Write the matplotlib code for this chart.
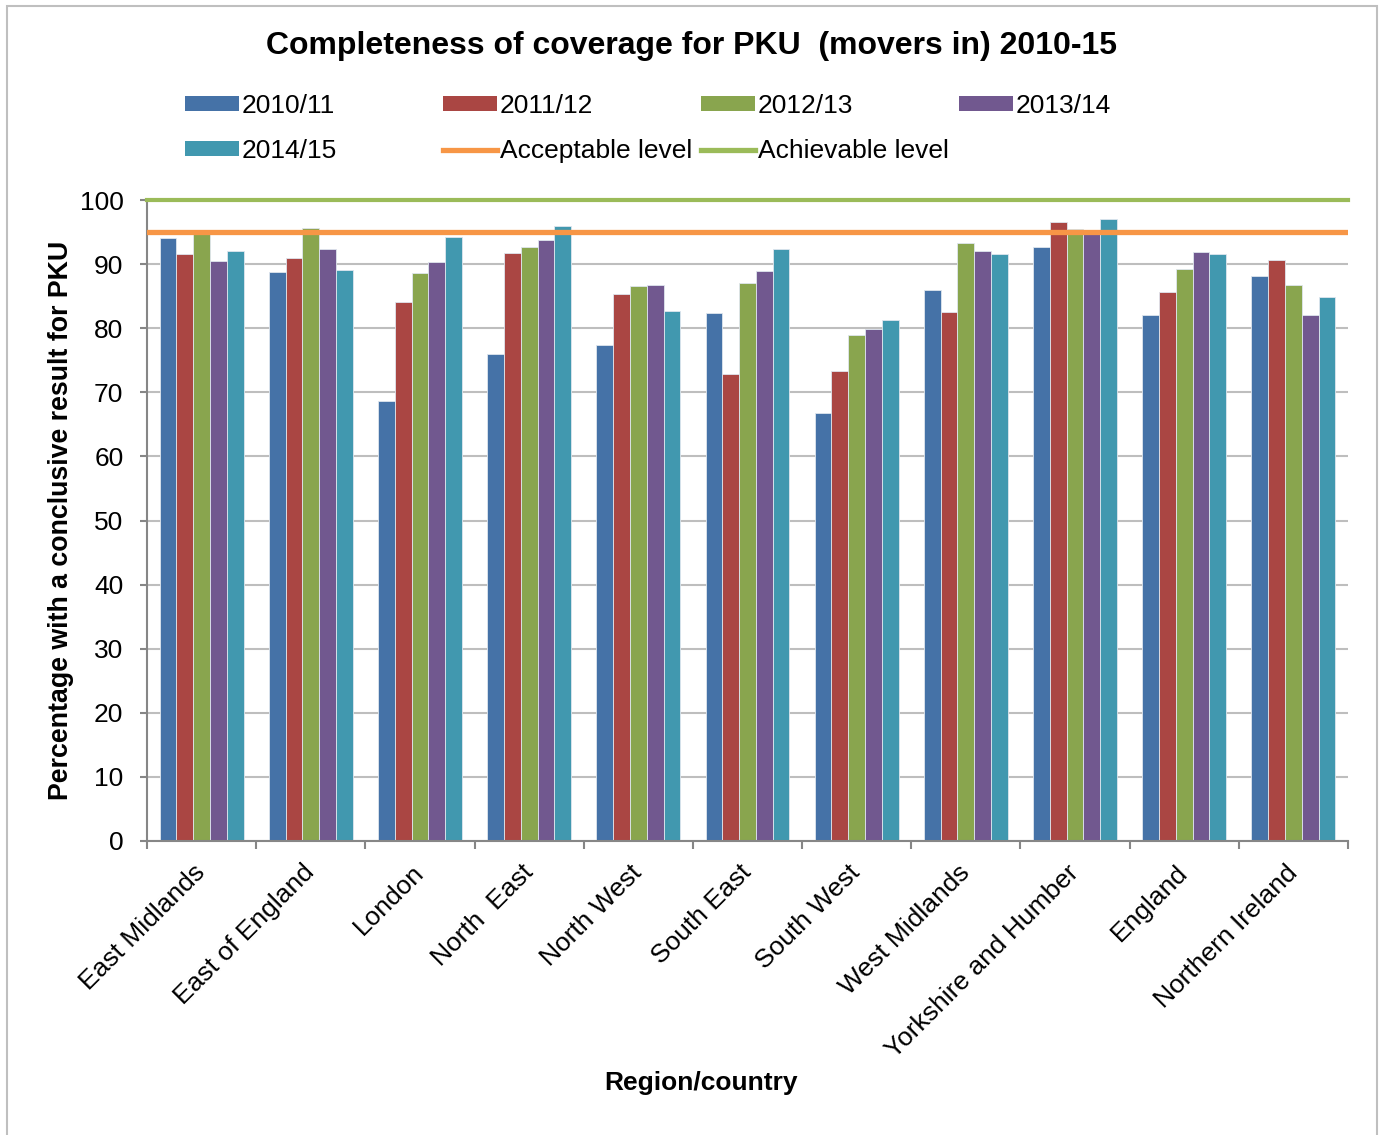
import numpy as np
import matplotlib.pyplot as plt
from matplotlib.patches import Patch, Rectangle
from matplotlib.lines import Line2D

plt.rcParams['font.family'] = ['Liberation Sans', 'DejaVu Sans']

regions = ['East Midlands', 'East of England', 'London', 'North  East', 'North West',
           'South East', 'South West', 'West Midlands', 'Yorkshire and Humber',
           'England', 'Northern Ireland']
years = ['2010/11', '2011/12', '2012/13', '2013/14', '2014/15']

cov_2010 = [94.0, 88.8, 68.7, 76.0, 77.4, 82.3, 66.7, 86.0, 92.7, 82.0, 88.2]
cov_2011 = [91.6, 91.0, 84.1, 91.8, 85.4, 72.9, 73.3, 82.5, 96.5, 85.6, 90.7]
cov_2012 = [94.9, 95.6, 88.6, 92.7, 86.6, 87.1, 79.0, 93.3, 95.4, 89.2, 86.7]
cov_2013 = [90.5, 92.4, 90.4, 93.7, 86.8, 88.9, 79.9, 92.0, 95.3, 91.9, 82.1]
cov_2014 = [92.1, 89.1, 94.3, 95.9, 82.7, 92.3, 81.3, 91.6, 97.1, 91.6, 84.9]

acceptable = 95
achievable = 100

bar_colors = ['#4572A7', '#AA4643', '#89A54E', '#71588F', '#4198AF']
acc_color = '#F79646'
ach_color = '#9BBB59'

W, H = 1383, 1135
fig = plt.figure(figsize=(W / 100, H / 100), dpi=100)
ax = fig.add_axes([147 / W, 1 - 841 / H, (1348 - 147) / W, 641 / H])

series = [cov_2010, cov_2011, cov_2012, cov_2013, cov_2014]
x = np.arange(len(regions))
bw = 1 / 6.5
handles = []
for i, (vals, col, lab) in enumerate(zip(series, bar_colors, years)):
    ax.bar(x + (i - 2) * bw, vals, width=bw, color=col, edgecolor='#dfe6ee',
           linewidth=0.6, zorder=2)
    handles.append(Patch(facecolor=col, label=lab))

ax.axhline(acceptable, color=acc_color, lw=3.8, zorder=3)
ax.axhline(achievable, color=ach_color, lw=3.0, zorder=3, clip_on=False)
handles.append(Line2D([], [], color=acc_color, lw=3.8, label='Acceptable level'))
handles.append(Line2D([], [], color=ach_color, lw=3.8, label='Achievable level'))

ax.set_xlim(-0.5, len(regions) - 0.5)
ax.set_ylim(0, 100)
ax.set_yticks(np.arange(0, 101, 10))
ax.yaxis.grid(True, color='#BEBEBE', lw=1.5, zorder=0)
ax.set_axisbelow(True)

ax.set_xticks(x)
ax.set_xticklabels(regions, rotation=45, ha='right', va='center', rotation_mode='anchor')
ax.set_xticks(np.arange(-0.5, len(regions)), minor=True)
ax.tick_params(axis='x', which='major', length=0, pad=20, labelsize=19)
ax.tick_params(axis='x', which='minor', length=6, width=1.5, color='#868686', direction='out')
ax.tick_params(axis='y', length=5, width=1.5, color='#868686', pad=12, labelsize=19)

for s in ['top', 'right']:
    ax.spines[s].set_visible(False)
for s in ['left', 'bottom']:
    ax.spines[s].set_color('#868686')
    ax.spines[s].set_linewidth(1.5)

ax.set_ylabel('Percentage with a conclusive result for PKU', fontsize=19.3,
              fontweight='bold', labelpad=4)
fig.text(701 / W, 1 - 1083 / H, 'Region/country', fontsize=19, fontweight='bold',
         ha='center', va='center')
fig.text(0.5, 1 - 46 / H, 'Completeness of coverage for PKU  (movers in) 2010-15',
         fontsize=23, fontweight='bold', ha='center', va='center')

# legend laid out on an even grid, row by row
col_x = [185, 443, 701, 959]
row_y = [106, 151]
for k, h in enumerate(handles):
    r, c = divmod(k, 4)
    fig.legend(handles=[h], loc='center left',
               bbox_to_anchor=(col_x[c] / W, 1 - row_y[r] / H),
               frameon=False, fontsize=19, borderpad=0, borderaxespad=0,
               handlelength=2.05, handleheight=0.5, handletextpad=0.1)

fig.patches.append(Rectangle((7 / W, -0.01), (1377 - 7) / W, 1.01 - 6 / H,
                             transform=fig.transFigure, fill=False,
                             edgecolor='#BFBFBF', lw=1.5))

fig.savefig('out.png', dpi=100)
